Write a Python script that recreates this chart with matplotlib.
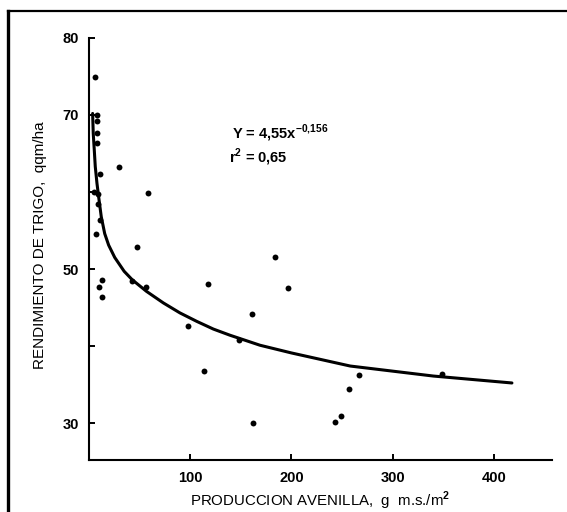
import matplotlib.pyplot as plt
from matplotlib.lines import Line2D

plt.rcParams['font.family'] = ['Liberation Sans', 'DejaVu Sans']
plt.rcParams['mathtext.fontset'] = 'custom'
plt.rcParams['mathtext.rm'] = 'Liberation Sans:bold'

# observed points: weed biomass (g dry matter / m2) vs wheat yield (qqm/ha)
avenilla = [6.5, 7.9, 8.2, 8.5, 8.2, 11.5, 30.2, 5.5, 9.2, 58.5, 9.5, 11.5, 7.2,
            47.7, 12.8, 10.5, 12.8, 43, 57, 118, 98.3, 114, 161, 162.4, 184,
            196.4, 267, 257, 249, 243.4, 349, 148]
rendimiento = [74.9, 70.0, 69.2, 67.6, 66.3, 62.3, 63.2, 60.0, 59.8, 59.9, 58.4,
               56.3, 54.6, 52.9, 48.6, 47.7, 46.4, 48.4, 47.7, 48.1, 42.6, 36.7,
               44.2, 30.0, 51.6, 47.5, 36.2, 34.4, 30.9, 30.1, 36.4, 40.8]

# fitted curve
curva_x = [3.9, 4.5, 5.5, 6.5, 8.2, 10.2, 12.4, 15.8, 19.7, 25.7, 35, 43, 57,
           73.6, 90, 106.6, 123, 139.4, 169, 200, 258, 340, 417.5]
curva_y = [70.2, 67.6, 65.5, 63.3, 61.1, 59.0, 56.8, 54.6, 53.1, 51.5, 49.7,
           48.6, 47.1, 45.6, 44.3, 43.2, 42.2, 41.4, 40.1, 39.1, 37.4, 36.1, 35.2]

x_ticks = [100, 200, 300, 400]
y_ticks = [30, 40, 50, 60, 70, 80]
y_labels = ['30', '', '50', '', '70', '80']

fig = plt.figure(figsize=(5.67, 5.12), dpi=100)
ax = fig.add_axes([0.1564, 0.1016, 0.8171, 0.8242])

ax.plot(curva_x, curva_y, color='black', linewidth=2.2,
        solid_capstyle='round', solid_joinstyle='round')
ax.scatter(avenilla, rendimiento, color='black', s=18, zorder=3, linewidths=0)

ax.set_xlim(0, 457)
ax.set_ylim(25.2, 80)
ax.set_xticks(x_ticks)
ax.set_xticklabels([str(t) for t in x_ticks])
ax.set_yticks(y_ticks)
ax.set_yticklabels(y_labels)

ax.spines['top'].set_visible(False)
ax.spines['right'].set_visible(False)
ax.spines['left'].set_linewidth(1.5)
ax.spines['bottom'].set_linewidth(1.5)

ax.tick_params(direction='in', length=4, width=1.4, labelsize=10.5)
ax.tick_params(axis='x', pad=8)
ax.tick_params(axis='y', pad=7)
for lab in ax.get_xticklabels() + ax.get_yticklabels():
    lab.set_fontweight('bold')

ax.set_xlabel('PRODUCCION AVENILLA,  g  m.s./m$^{2}$', fontsize=10.8, labelpad=3)
ax.set_ylabel('RENDIMIENTO DE TRIGO,  qqm/ha', fontsize=11)
ax.yaxis.set_label_coords(-0.09, 0.508)

ax.text(141.4, 67.0, 'Y = 4,55x$^{-0{,}156}$', fontsize=10.5, fontweight='bold')
ax.text(138.8, 63.8, 'r$^{2}$ = 0,65', fontsize=10.5, fontweight='bold')

# scanned frame: top and left edges
fig.add_artist(Line2D([8 / 567, 1], [1 - 11 / 512] * 2, color='black', linewidth=1.6))
fig.add_artist(Line2D([8 / 567] * 2, [0, 1 - 11 / 512], color='black', linewidth=2.4))

fig.savefig('out.png', dpi=100)
